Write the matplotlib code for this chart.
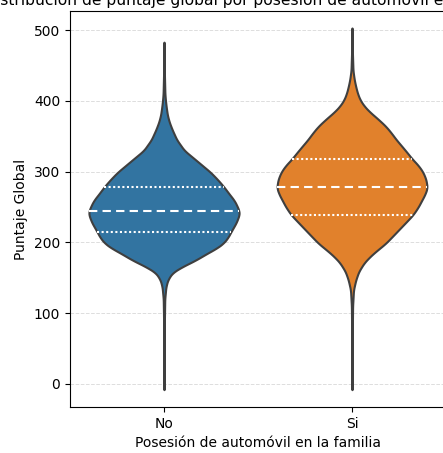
import numpy as np
import matplotlib
matplotlib.use("Agg")
import matplotlib.pyplot as plt

# ---- data ----
categories = ["No", "Si"]
colors = ["#3274a1", "#e1812c"]

# density profiles (value -> relative half-width, max = 1)
no_values = [483, 440, 410, 400, 391, 380, 370, 359, 345, 330, 315, 299, 288, 278, 268, 260, 252, 244, 239,
             228, 215, 207, 199, 192, 185, 175, 165, 157, 147, 137, 120, 80, 40, -8]
no_density = [0.0, 0.005, 0.012, 0.02, 0.03, 0.045, 0.07, 0.11, 0.17, 0.27, 0.44, 0.62, 0.72, 0.80, 0.87, 0.93, 0.97, 1.0, 1.0,
              0.96, 0.89, 0.85, 0.79, 0.70, 0.58, 0.42, 0.23, 0.11, 0.05, 0.025, 0.01, 0.004, 0.002, 0.0]

si_values = [503, 470, 443, 430, 420, 410, 401, 393, 385, 373, 364, 355, 345, 335, 326, 318, 309, 300, 290, 285, 277,
             268, 260, 250, 239, 230, 220, 210, 199, 192, 185, 178, 171, 159, 147, 133, 110, 60, -8]
si_density = [0.0, 0.005, 0.013, 0.03, 0.05, 0.075, 0.11, 0.16, 0.23, 0.36, 0.45, 0.52, 0.59, 0.67, 0.74, 0.80, 0.88, 0.94, 0.98, 0.99, 1.0,
              0.97, 0.93, 0.88, 0.81, 0.73, 0.64, 0.55, 0.45, 0.37, 0.29, 0.22, 0.16, 0.09, 0.05, 0.02, 0.008, 0.003, 0.0]

profiles_values = [no_values, si_values]
profiles_density = [no_density, si_density]

# quartiles (Q1, median, Q3)
quartiles = [[215, 244, 278], [239, 278, 318]]

yticks = [0, 100, 200, 300, 400, 500]

title = "Distribución de puntaje global por posesión de automóvil en la familia"
xlabel = "Posesión de automóvil en la familia"
ylabel = "Puntaje Global"

# ---- figure ----
fig = plt.figure(figsize=(4.43, 4.53), dpi=100)
W, H = 443, 453
ax = fig.add_axes([70 / W, 1 - 407 / H, (446 - 70) / W, (407 - 11) / H])

half = 0.4
edge = "#3f3f3f"
for i, (vals, dens) in enumerate(zip(profiles_values, profiles_density)):
    v = np.array(vals, dtype=float)
    d = np.array(dens, dtype=float) * half
    order = np.argsort(v)
    # smooth outline for rendering
    grid = np.linspace(v.min(), v.max(), 800)
    dg = np.interp(grid, v[order], d[order])
    k = 15
    kernel = np.ones(k) / k
    dpad = np.pad(dg, k // 2, mode="edge")
    ds = np.convolve(dpad, kernel, mode="valid")
    ds[0] = 0
    ds[-1] = 0
    ax.fill_betweenx(grid, i - ds, i + ds, facecolor=colors[i], edgecolor=edge,
                     linewidth=1.5, zorder=2)
    for q, ls in zip(quartiles[i], [(0, (1, 1.2)), (0, (4, 2.5)), (0, (1, 1.2))]):
        w = np.interp(q, grid, ds)
        ax.plot([i - w, i + w], [q, q], color="white", linestyle=ls,
                linewidth=1.5, zorder=3)

ax.set_xlim(-0.5, 1.5)
ax.set_ylim(-32.5, 527)
ax.set_xticks(range(len(categories)))
ax.set_xticklabels(categories)
ax.set_yticks(yticks)
ax.grid(axis="y", linestyle="--", color="#dddddd", linewidth=0.7, zorder=0)
ax.set_axisbelow(True)
ax.set_title(title, fontsize=11.2, pad=4, x=0.497)
ax.set_xlabel(xlabel)
ax.set_ylabel(ylabel)

fig.savefig("out.png", dpi=100)
